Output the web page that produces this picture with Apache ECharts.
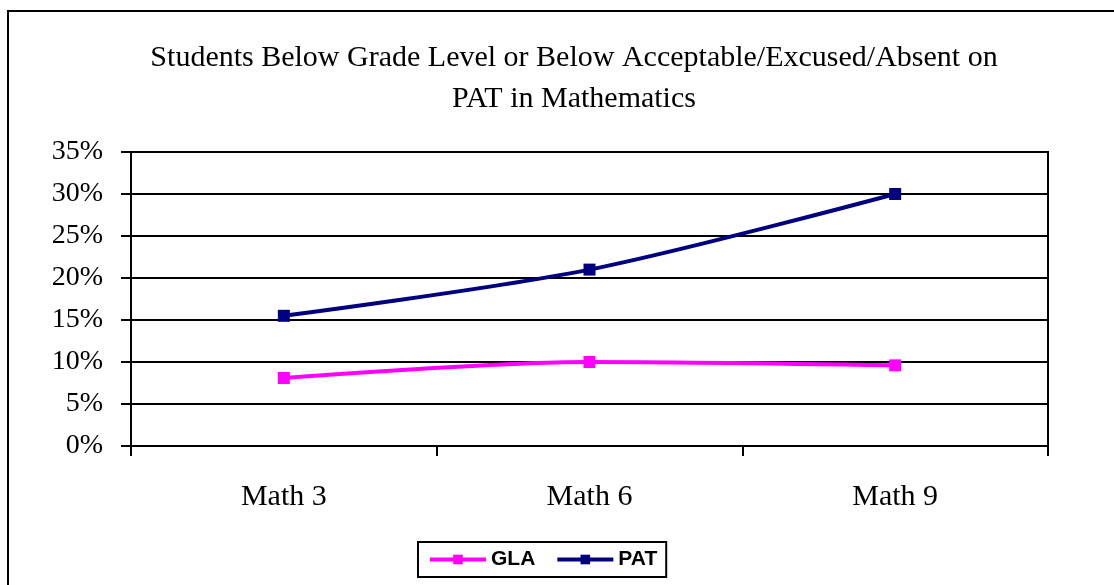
<!DOCTYPE html>
<html>
<head>
<meta charset="utf-8">
<script src="https://cdn.jsdelivr.net/npm/echarts@6/dist/echarts.min.js"></script>
<style>html,body{margin:0;padding:0;background:#fff}#c{width:1114px;height:585px}</style>
</head>
<body>
<div id="c"></div>
<script>
const titleText = 'Students Below Grade Level or Below Acceptable/Excused/Absent on\nPAT in Mathematics';
const categories = ['Math 3', 'Math 6', 'Math 9'];
const glaValues = [8.1, 10.0, 9.6];
const patValues = [15.5, 21.0, 30.0];
const yTicks = [0, 5, 10, 15, 20, 25, 30, 35];

const chart = echarts.init(document.getElementById('c'));
chart.setOption({
  backgroundColor: '#fff',
  animation: false,
  graphic: [{
    type: 'rect', shape: { x: 8, y: 11, width: 1200, height: 700 },
    style: { fill: 'none', stroke: '#000', lineWidth: 2 }, z: 100
  }],
  title: {
    text: titleText, left: 569, top: 33, textAlign: 'center',
    textStyle: { fontFamily: 'Liberation Serif', fontSize: 30, fontWeight: 'normal', color: '#000', lineHeight: 41 }
  },
  grid: { left: 131, right: 66, top: 152, bottom: 139, show: true, borderColor: '#000', borderWidth: 2 },
  xAxis: {
    type: 'category', data: categories, boundaryGap: true,
    axisLine: { lineStyle: { color: '#000', width: 2 } },
    axisTick: { show: true, length: 10, lineStyle: { color: '#000', width: 2 } },
    axisLabel: { margin: 36, fontFamily: 'Liberation Serif', fontSize: 30, color: '#000' },
    splitLine: { show: false }
  },
  yAxis: {
    type: 'value', min: yTicks[0], max: yTicks[yTicks.length - 1], interval: 5,
    axisLine: { show: true, lineStyle: { color: '#000', width: 2 } },
    axisTick: { show: true, length: 10, lineStyle: { color: '#000', width: 2 } },
    axisLabel: { margin: 28, fontFamily: 'Liberation Serif', fontSize: 28, color: '#000', formatter: v => v + '%' },
    splitLine: { show: true, lineStyle: { color: '#000', width: 2 } }
  },
  legend: {
    left: 418, top: 542,
    borderColor: '#000', borderWidth: 2, padding: [7, 9, 7, 10],
    itemWidth: 56, itemHeight: 12, itemGap: 20,
    lineStyle: { width: 4 },
    textStyle: { fontFamily: 'Liberation Sans', fontWeight: 'bold', fontSize: 21, color: '#000' },
    data: ['GLA', 'PAT']
  },
  series: [
    { name: 'GLA', type: 'line', data: glaValues, smooth: 0.3, symbol: 'rect', symbolSize: 12,
      lineStyle: { color: '#ff00ff', width: 4 }, itemStyle: { color: '#ff00ff' } },
    { name: 'PAT', type: 'line', data: patValues, smooth: 0.3, symbol: 'rect', symbolSize: 12,
      lineStyle: { color: '#000080', width: 4 }, itemStyle: { color: '#000080' } }
  ]
});
</script>
</body>
</html>
